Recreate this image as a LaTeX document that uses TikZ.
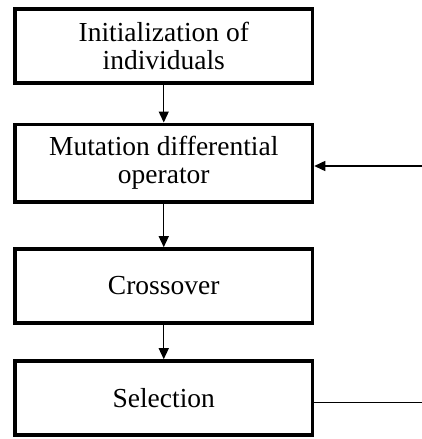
\documentclass[tikz,border=0pt]{standalone}
\usepackage{fontspec}
\setmainfont{Liberation Serif}
\usetikzlibrary{arrows.meta,positioning}

\begin{document}
\begin{tikzpicture}[x=1pt, y=-1pt, font=\fontsize{27.5}{28}\selectfont,
  box/.style={draw, line width=3.5pt, align=center, minimum width=297.5pt, minimum height=74pt, inner sep=0pt},
  arr/.style={-{Triangle[length=11pt,width=10pt]}, line width=1.4pt}]

\useasboundingbox (0,0) rectangle (422,439);

\node (init) [box] at (163.75,45.75) {Initialization of\\individuals};
\node (mut) [box, below=38pt of init, minimum height=77.5pt] {Mutation differential\\operator};
\node (cross) [box, below=43.7pt of mut] {Crossover};
\node (sel) [box, below=34.5pt of cross] {Selection};

\coordinate (fbin) at (422,166);
\coordinate (fbout) at (422,402);

\draw[arr] (init) -- (mut);
\draw[arr] (mut) -- (cross);
\draw[arr] (cross) -- (sel);

\draw[arr] (fbin) -- (mut.east |- fbin);
\draw[line width=1pt] (sel.east |- fbout) -- (fbout);

\end{tikzpicture}
\end{document}
